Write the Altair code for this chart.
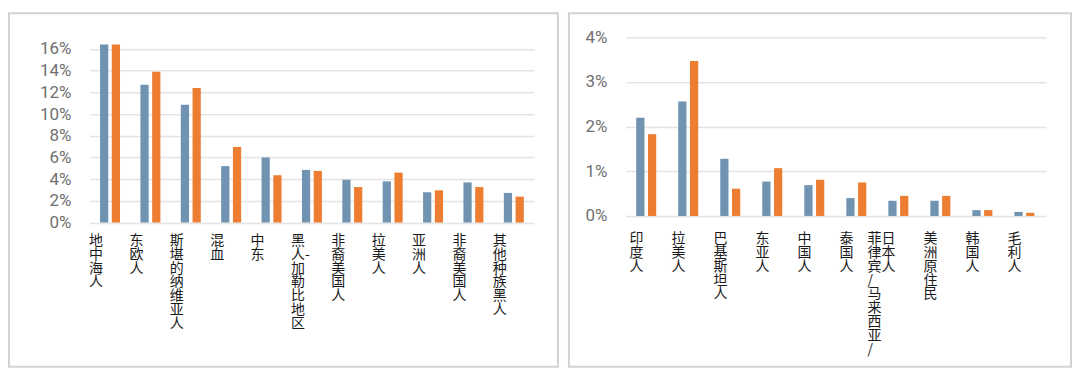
import json
import altair as alt
import pandas as pd

# ---------------- data ----------------
left_categories = ["地中海人", "东欧人", "斯堪的纳维亚人", "混血", "中东", "黑人-加勒比地区",
                   "非裔美国人", "拉美人", "亚洲人", "非裔美国人", "其他种族黑人"]
left_blue = [16.4, 12.7, 10.85, 5.2, 6.0, 4.85, 3.94, 3.79, 2.79, 3.7, 2.73]
left_orange = [16.4, 13.9, 12.4, 6.97, 4.36, 4.76, 3.27, 4.6, 2.97, 3.27, 2.39]
left_ticks = [0, 2, 4, 6, 8, 10, 12, 14, 16]

right_categories = ["印度人", "拉美人", "巴基斯坦人", "东亚人", "中国人", "泰国人|菲律宾/马来西亚/",
                    "日本人", "美洲原住民", "韩国人", "毛利人"]
right_blue = [2.20, 2.56, 1.28, 0.77, 0.69, 0.40, 0.34, 0.34, 0.13, 0.09]
right_orange = [1.83, 3.47, 0.61, 1.07, 0.81, 0.75, 0.45, 0.45, 0.13, 0.07]
right_ticks = [0, 1, 2, 3, 4]

series_names = ["系列1", "系列2"]
colors = ["#6f93b0", "#ed7d31"]

FONT_CJK = "Noto Sans CJK SC"
FONT_NUM = "Roboto"
ZWSP = "\u200b"
IDSP = "\u3000"


def vertical_lines(name):
    """Stack characters vertically (one per line); '|' splits into two columns."""
    if "|" in name:
        c1, c2 = name.split("|")
        n = max(len(c1), len(c2))
        out = []
        for i in range(n):
            a = c1[i] if i < len(c1) else IDSP
            b = c2[i] if i < len(c2) else ""
            out.append(ZWSP + a + IDSP + b)
        return out
    out = []
    for ch in name:
        if ch == "-" and out:
            out[-1] = out[-1] + "-"
        else:
            out.append(ch)
    return out


def make_df(cats, blue, orange):
    rows = []
    for i, c in enumerate(cats):
        rows.append({"idx": i, "cat": c, "series": series_names[0], "value": blue[i]})
        rows.append({"idx": i, "cat": c, "series": series_names[1], "value": orange[i]})
    return pd.DataFrame(rows)


def panel(cats, blue, orange, ticks, width, height, y_top, pad_inner, off_inner,
          label_offset, label_padding, frame):
    df = make_df(cats, blue, orange)
    label_arr = json.dumps([vertical_lines(c) for c in cats], ensure_ascii=False)
    bars = alt.Chart(df).mark_bar().encode(
        x=alt.X("idx:O",
                scale=alt.Scale(paddingInner=pad_inner, paddingOuter=pad_inner / 2),
                axis=alt.Axis(title=None, labelExpr=f"{label_arr}[datum.value]",
                              labelAngle=0, labelAlign="left", labelBaseline="top",
                              labelOffset=label_offset, labelPadding=label_padding,
                              labelFont=FONT_CJK, labelFontSize=14, labelLineHeight=13.8,
                              labelColor="#1a1a1a", ticks=False, domain=False,
                              labelOverlap=False, labelLimit=0, grid=False)),
        xOffset=alt.XOffset("series:N", sort=series_names,
                            scale=alt.Scale(paddingInner=off_inner, paddingOuter=0)),
        y=alt.Y("value:Q",
                scale=alt.Scale(domain=[ticks[0], ticks[-1]], nice=False,
                                range=[height, y_top]),
                axis=alt.Axis(title=None, values=ticks, labelExpr="datum.value + '%'",
                              labelFont=FONT_NUM, labelFontSize=17, labelColor="#707070",
                              labelPadding=19, ticks=False, domain=False,
                              grid=True, gridColor="#e4e4e4", gridWidth=1.5)),
        color=alt.Color("series:N", sort=series_names,
                        scale=alt.Scale(domain=series_names, range=colors), legend=None),
    )
    fx0, fx1, fy0, fy1 = frame
    box = alt.Chart(pd.DataFrame({"k": [0]})).mark_rect(
        fill="transparent", stroke="#d2d2d2", strokeWidth=2
    ).encode(x=alt.value(fx0), x2=alt.value(fx1), y=alt.value(fy0), y2=alt.value(fy1))
    return alt.layer(box, bars).properties(width=width, height=height)


left = panel(left_categories, left_blue, left_orange, left_ticks,
             width=445, height=185.6, y_top=11.7, pad_inner=0.505, off_inner=0.3,
             label_offset=-21, label_padding=11,
             frame=(-81, 469, -24, 330))
right = panel(right_categories, right_blue, right_orange, right_ticks,
              width=421, height=179, y_top=0, pad_inner=0.494, off_inner=0.18,
              label_offset=-17.5, label_padding=16,
              frame=(-57, 446, -24, 330))

chart = alt.hconcat(left, right, spacing=9).properties(
    padding={"left": 0, "top": 4, "right": 0, "bottom": 0},
    background="white",
).configure_view(strokeWidth=0)

chart.save("out.html", embed_options={"renderer": "svg", "actions": False})
